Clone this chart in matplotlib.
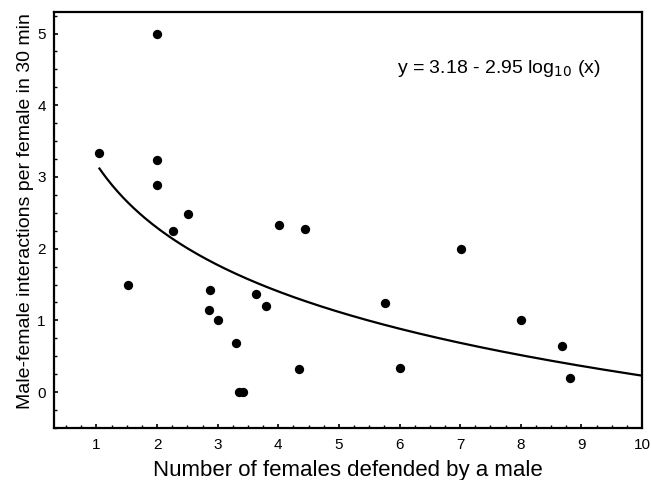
import numpy as np
import matplotlib
matplotlib.use("Agg")
import matplotlib.pyplot as plt
from matplotlib.ticker import MultipleLocator

# Data
x_vals = [1.05, 1.52, 2.0, 2.0, 2.0, 2.26, 2.51, 2.85, 2.87, 3.0, 3.31, 3.35, 3.42,
          3.63, 3.80, 4.01, 4.34, 4.44, 5.76, 6.0, 7.02, 8.01, 8.68, 8.82]
y_vals = [3.33, 1.49, 4.99, 3.24, 2.89, 2.25, 2.48, 1.15, 1.42, 1.0, 0.69, 0.0, 0.0,
          1.37, 1.20, 2.33, 0.32, 2.27, 1.24, 0.33, 1.99, 1.0, 0.65, 0.20]
fit_intercept = 3.18
fit_slope = -2.95
fit_x_range = [1.05, 10.0]
x_ticks = [1, 2, 3, 4, 5, 6, 7, 8, 9, 10]
y_ticks = [0, 1, 2, 3, 4, 5]

plt.rcParams['font.family'] = ['Liberation Sans', 'DejaVu Sans']

fig = plt.figure(figsize=(6.51, 4.8), dpi=100)
ax = fig.add_axes([54/651, 1-428/480, (642-54)/651, (428-12)/480])

ax.scatter(x_vals, y_vals, s=45, color='black', zorder=3, linewidths=0)
xf = np.linspace(fit_x_range[0], fit_x_range[1], 300)
ax.plot(xf, fit_intercept + fit_slope*np.log10(xf), color='black', lw=1.6)

ax.set_xlim(0.3, 10)
ax.set_ylim(-0.5, 5.3)
ax.set_xticks(x_ticks)
ax.set_yticks(y_ticks)
ax.xaxis.set_minor_locator(MultipleLocator(0.25))
ax.yaxis.set_minor_locator(MultipleLocator(0.25))
ax.tick_params(which='major', direction='in', length=3, width=1.2, labelsize=11)
ax.tick_params(which='minor', direction='in', length=2, width=1.0)
ax.tick_params(axis='x', pad=7)
ax.tick_params(axis='y', pad=6)
for s in ax.spines.values():
    s.set_linewidth(1.6)

ax.set_xlabel('Number of females defended by a male', fontsize=16, va='baseline')
ax.xaxis.set_label_coords(0.499, -0.1155)
ax.set_ylabel('Male-female interactions per female in 30 min', fontsize=14)
ax.yaxis.set_label_coords(-0.034, 0.522)

ax.text(0.583, 0.865, r'y = 3.18 - 2.95 log$_{10}$ (x)', transform=ax.transAxes,
        fontsize=14, va='center', ha='left')

fig.savefig('out.png', dpi=100)
